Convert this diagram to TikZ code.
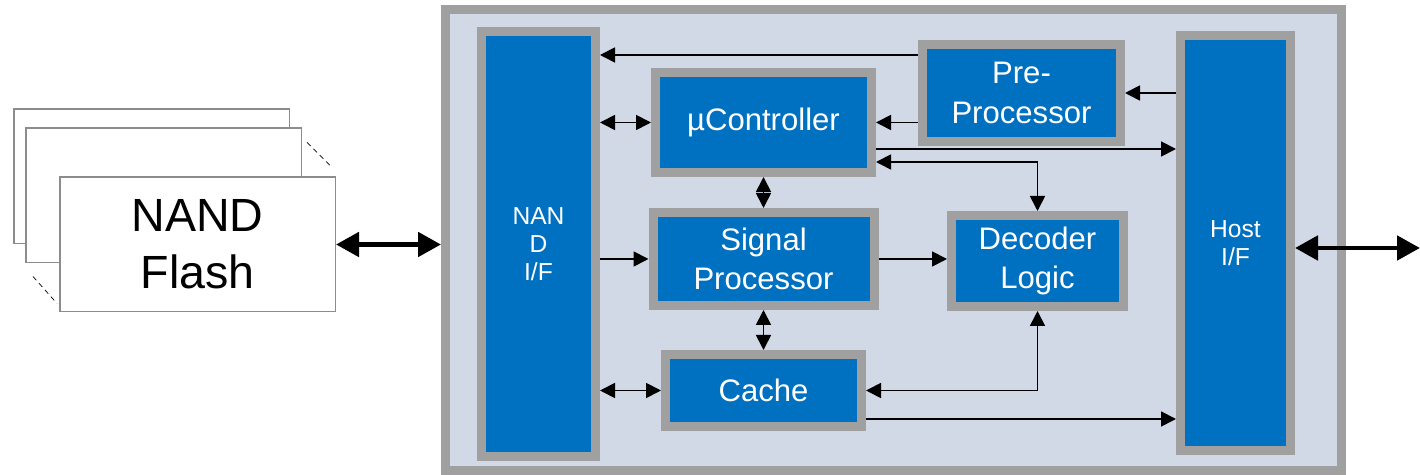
\documentclass[tikz,border=0pt]{standalone}
\usepackage{fontspec}
\setmainfont{Liberation Sans}
\usetikzlibrary{arrows.meta,positioning,calc}
\definecolor{blockblue}{HTML}{0070C0}
\definecolor{rimgray}{HTML}{A0A0A0}
\definecolor{boardfill}{HTML}{D1D8E6}
\definecolor{cardgray}{HTML}{8C8C8C}
\tikzset{
    block/.style={draw=rimgray, line width=0.18cm, fill=blockblue, text=white, inner sep=0pt, align=center, font=\fontsize{17.7}{22.5}\selectfont},
    port/.style={block, font=\fontsize{14}{16}\selectfont},
    card/.style={draw=cardgray, line width=0.03cm, fill=white, minimum width=5.51cm, minimum height=2.69cm, inner sep=0pt},
    link/.style={line width=1pt, -{Triangle[length=3mm,width=3mm]}},
    duplex/.style={line width=1pt, {Triangle[length=3mm,width=3mm]}-{Triangle[length=3mm,width=3mm]}},
    bus/.style={line width=2.8pt, {Triangle[length=4.6mm,width=4.8mm]}-{Triangle[length=4.6mm,width=4.8mm]}}
}

\begin{document}
\begin{tikzpicture}
    \useasboundingbox (0,0) rectangle (28.4,9.5);
    \node (ssd) [draw=rimgray, line width=0.18cm, fill=boardfill, minimum width=17.92cm, minimum height=9.22cm, inner sep=0pt] at (17.87,4.70) {};

    \node (backcard) [card] at (3.03,5.97) {};
    \node (midcard) [card] at (3.27,5.59) {};
    \node (flash) [card, align=center, font=\fontsize{26.5}{32.4}\selectfont] at (3.95,4.61) {NAND\\Flash};
    \draw[dash pattern=on 0.1cm off 0.08cm] ([shift={(0.1,-0.3)}]midcard.north east) -- ([shift={(-0.1,0.2)}]flash.north east);
    \draw[dash pattern=on 0.1cm off 0.08cm] ([shift={(0.16,-0.26)}]midcard.south west) -- ([shift={(-0.04,0.18)}]flash.south west);

    \node (nandif) [port, minimum width=2.28cm, minimum height=8.50cm] at (10.77,4.62) {NAN\\D\\I/F};
    \node (hostif) [port, minimum width=2.20cm, minimum height=8.30cm] at (24.71,4.64) {Host\\I/F};
    \node (ctrl) [block, minimum width=4.32cm, minimum height=2.00cm] at (15.27,7.05) {µController};
    \node (sigproc) [block, minimum width=4.42cm, minimum height=1.86cm, below=0.62cm of ctrl] {Signal\\Processor};
    \node (cache) [block, minimum width=3.92cm, minimum height=1.44cm, below=0.80cm of sigproc] {Cache};
    \node (preproc) [block, minimum width=3.96cm, minimum height=1.94cm] at (20.43,7.64) {Pre-\\Processor};
    \node (decoder) [block, minimum width=3.44cm, minimum height=1.82cm] at (20.75,4.28) {Decoder\\Logic};

    \coordinate (hostbus) at (28.4,4.54);
    \draw[bus] (flash.east) -- (flash.east -| ssd.west);
    \draw[bus] (hostif.east |- hostbus) -- (hostbus);

    \draw[link] ([yshift=-3mm]preproc.north west) coordinate (pp) -- (pp -| nandif.east);
    \draw[duplex] (nandif.east |- ctrl.west) -- (ctrl.west);
    \draw[link] (preproc.west |- ctrl.east) -- (ctrl.east);
    \draw[link] (hostif.west |- preproc.east) -- (preproc.east);
    \draw[link] ([yshift=5.6mm]ctrl.south east) coordinate (cc) -- (cc -| hostif.west);
    \draw[duplex] ([yshift=3mm]ctrl.south east) -| (decoder.north);
    \draw[duplex] (ctrl.south) -- (ctrl.south |- sigproc.north);
    \draw[link] (nandif.east |- sigproc.west) -- (sigproc.west);
    \draw[link] (sigproc.east) -- (sigproc.east -| decoder.west);
    \draw[duplex] (sigproc.south) -- (sigproc.south |- cache.north);
    \draw[duplex] (nandif.east |- cache.west) -- (cache.west);
    \draw[duplex] (decoder.south) |- (cache.east);
    \draw[link] ([yshift=2.4mm]cache.south east) coordinate (cs) -- (cs -| hostif.west);
\end{tikzpicture}
\end{document}
